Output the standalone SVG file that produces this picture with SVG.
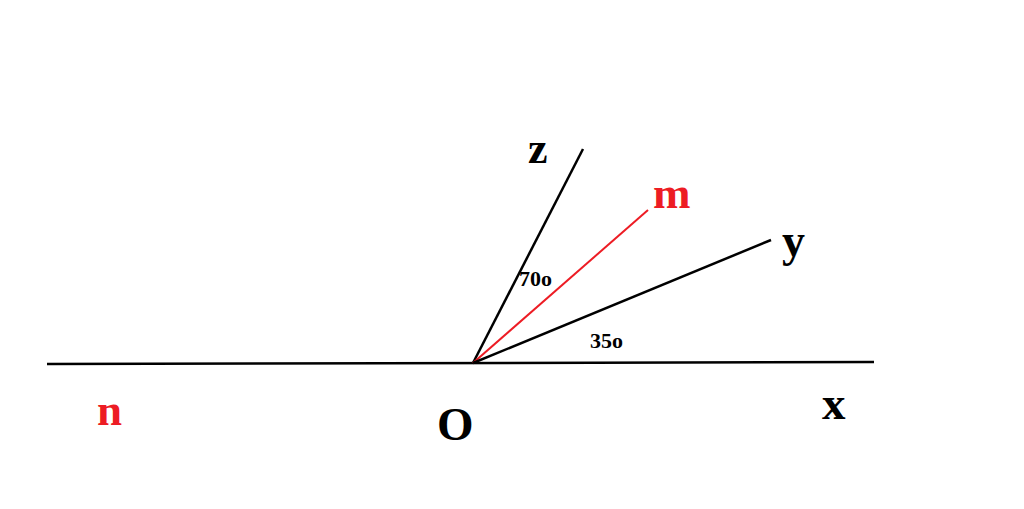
<svg xmlns="http://www.w3.org/2000/svg" width="1024" height="509" viewBox="0 0 1024 509">
<style>
.ln{stroke:#000;stroke-width:2.5;fill:none;stroke-linecap:butt}
.red{stroke:#ed1c24;stroke-width:2}
.t{font-family:"Liberation Serif","Times New Roman",serif;font-weight:bold;fill:#000}
.r{fill:#ed1c24}
</style>
<rect width="1024" height="509" fill="#fff"/>
<g id="connectors">
<line class="ln" x1="47" y1="364" x2="874" y2="362"/>
<line class="ln" x1="473" y1="363" x2="583" y2="149"/>
<line class="ln red" x1="473" y1="363" x2="648" y2="210"/>
<line class="ln" x1="473" y1="363" x2="771" y2="240"/>
</g>
<g id="node-z"><text class="t" x="528" y="163" font-size="44">z</text></g>
<g id="node-m"><text class="t r" x="653" y="208" font-size="45">m</text></g>
<g id="node-y"><text class="t" x="782" y="256" font-size="46">y</text></g>
<g id="label-70"><text class="t" x="519" y="286" font-size="22">70o</text></g>
<g id="label-35"><text class="t" x="590" y="348" font-size="22">35o</text></g>
<g id="node-n"><text class="t r" x="97" y="425" font-size="45">n</text></g>
<g id="node-O"><text class="t" x="437" y="440" font-size="47">O</text></g>
<g id="node-x"><text class="t" x="822" y="419" font-size="47">x</text></g>
</svg>
